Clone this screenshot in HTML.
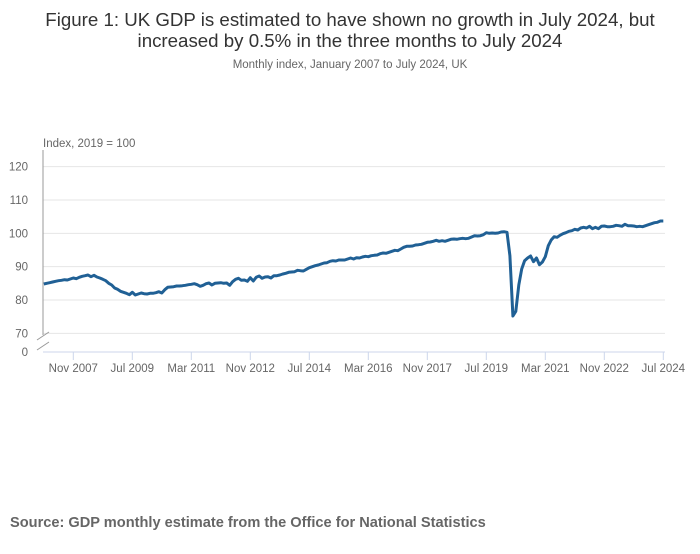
<!DOCTYPE html>
<html><head><meta charset="utf-8"><style>
body{margin:0;background:#fff;font-family:"Liberation Sans",sans-serif}
svg text{font-family:"Liberation Sans",sans-serif}
</style></head><body>
<svg width="700" height="549" viewBox="0 0 700 549">
<text x="350" y="26" text-anchor="middle" font-size="18.7" fill="#333">Figure 1: UK GDP is estimated to have shown no growth in July 2024, but</text>
<text x="350" y="47" text-anchor="middle" font-size="18.7" fill="#333">increased by 0.5% in the three months to July 2024</text>
<text x="350" y="68" text-anchor="middle" font-size="11.5" fill="#666">Monthly index, January 2007 to July 2024, UK</text>
<text x="43" y="147" font-size="11.5" fill="#666">Index, 2019 = 100</text>
<g id="grid"></g>
<g id="axes"></g>
<g id="series"></g>
<text x="10" y="527" font-size="14.6" font-weight="bold" fill="#666">Source: GDP monthly estimate from the Office for National Statistics</text>
</svg>
<script>
const yTicks=[120,110,100,90,80,70];
const xTickLabels=["Nov 2007","Jul 2009","Mar 2011","Nov 2012","Jul 2014","Mar 2016","Nov 2017","Jul 2019","Mar 2021","Nov 2022","Jul 2024"];
const xTickIndex=[10,30,50,70,90,110,130,150,170,190,210];
const gdp=[
84.8,85.0,85.2,85.4,85.6,85.8,85.9,86.1,86.0,86.3,86.6,86.4,
86.8,87.1,87.3,87.5,87.0,87.4,86.9,86.6,86.2,85.8,85.0,84.5,
83.6,83.2,82.6,82.3,82.0,81.6,82.3,81.5,81.8,82.1,81.9,81.8,
82.0,82.0,82.2,82.5,82.1,83.1,83.8,83.9,84.0,84.2,84.2,84.3,
84.4,84.6,84.7,84.9,84.6,84.1,84.4,84.9,85.1,84.5,85.0,85.1,
85.2,85.0,85.1,84.4,85.5,86.2,86.5,85.9,86.0,85.6,86.7,85.7,
86.8,87.2,86.5,86.9,87.0,86.6,87.3,87.3,87.5,87.8,88.0,88.3,
88.4,88.5,88.9,88.8,88.7,89.2,89.7,90.0,90.3,90.5,90.8,91.1,
91.2,91.6,91.8,91.7,92.0,92.0,92.0,92.3,92.6,92.3,92.7,92.6,
92.9,93.1,93.0,93.3,93.4,93.5,93.9,94.1,94.0,94.3,94.6,94.9,
94.8,95.3,95.8,96.1,96.1,96.2,96.5,96.6,96.7,97.0,97.3,97.4,
97.6,97.9,97.6,97.8,97.6,97.9,98.2,98.3,98.2,98.4,98.5,98.4,
98.5,98.9,99.3,99.2,99.3,99.6,100.2,100.0,100.1,100.0,100.1,100.4,
100.5,100.3,93.3,75.2,76.6,84.5,89.3,91.8,92.6,93.2,91.5,92.6,
90.6,91.4,93.0,96.3,98.0,99.0,98.8,99.4,99.9,100.2,100.6,100.8,
101.2,101.0,101.6,101.8,101.6,102.1,101.4,101.8,101.4,102.1,102.2,102.0,
102.0,102.1,102.4,102.3,102.1,102.7,102.3,102.3,102.2,102.0,102.1,102.0,
102.3,102.6,102.9,103.2,103.3,103.7,103.7];
const NS="http://www.w3.org/2000/svg";
const X0=43.8,DX=2.95,XR=665;
const x=i=>X0+i*DX;
const y=v=>300-(v-80)*3.333;
function mk(t,a,p){const e=document.createElementNS(NS,t);for(const k in a)e.setAttribute(k,a[k]);p.appendChild(e);return e;}
const grid=document.getElementById('grid'),axes=document.getElementById('axes'),ser=document.getElementById('series');
yTicks.forEach(v=>{
 const l=mk('line',{x1:43,x2:XR,y1:y(v),y2:y(v),stroke:'#e6e6e6','stroke-width':1},grid);
 
 
 const t=mk('text',{x:28,y:y(v)+4,'text-anchor':'end','font-size':11.5,fill:'#666'},axes);
 t.textContent=v;
 
 
});
const z=mk('text',{x:28,y:356,'text-anchor':'end','font-size':11.5,fill:'#666'},axes);
z.textContent='0';


const ya=mk('line',{x1:43,x2:43,y1:150,y2:335,stroke:'#999','stroke-width':1},axes);


const br=mk('path',{d:'M37,340 L49,332 M37,350 L49,342',stroke:'#999','stroke-width':1,fill:'none'},axes);


const xa=mk('line',{x1:43,x2:XR,y1:352,y2:352,stroke:'#ccd6eb','stroke-width':1},axes);


xTickIndex.forEach((idx,k)=>{
 const tk=mk('line',{x1:x(idx),x2:x(idx),y1:352,y2:360,stroke:'#ccd6eb'},axes);
 
 
 const t=mk('text',{x:x(idx),y:372,'text-anchor':'middle','font-size':11.5,fill:'#666'},axes);
 t.textContent=xTickLabels[k];
 
 
});
const p=mk('path',{d:gdp.map((v,i)=>(i?'L':'M')+x(i).toFixed(1)+','+y(v).toFixed(1)).join(''),fill:'none',stroke:'#206095','stroke-width':3,'stroke-linejoin':'round'},ser);


</script>
</body></html>
